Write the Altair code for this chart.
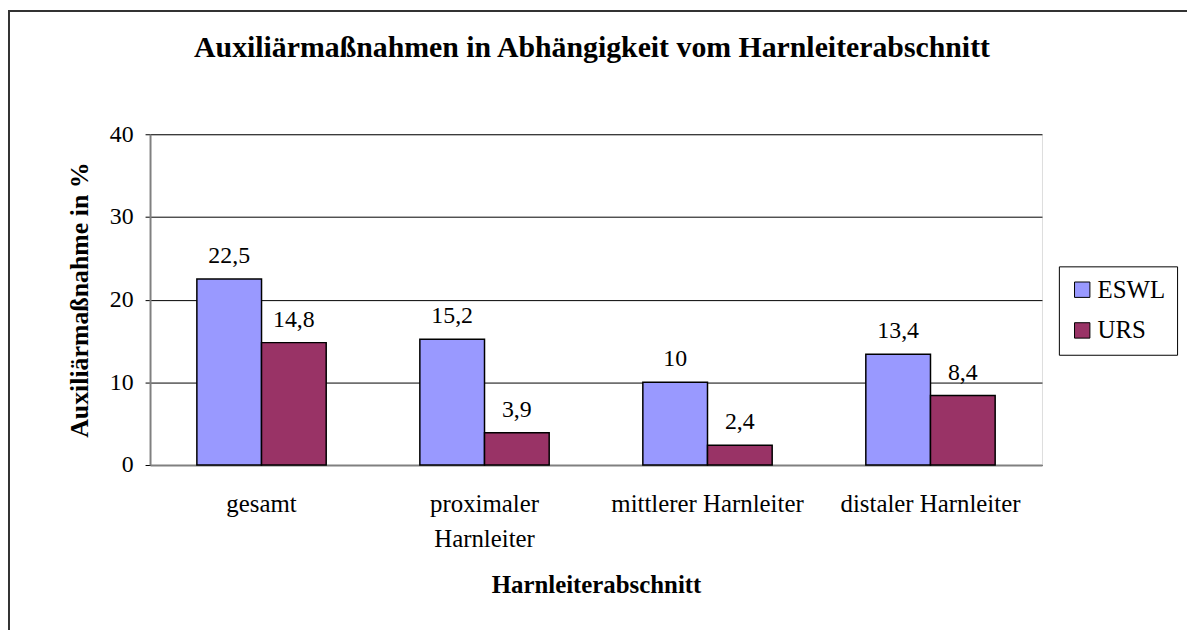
import altair as alt
import pandas as pd

categories = ["gesamt", "proximaler Harnleiter", "mittlerer Harnleiter", "distaler Harnleiter"]
series = ["ESWL", "URS"]
eswl = [22.5, 15.2, 10.0, 13.4]
urs = [14.8, 3.9, 2.4, 8.4]
y_ticks = [0, 10, 20, 30, 40]
colors = ["#9999FF", "#993366"]
title_text = "Auxiliärmaßnahmen in Abhängigkeit vom Harnleiterabschnitt"

rows = []
for c, a, b in zip(categories, eswl, urs):
    rows.append({"Abschnitt": c, "Verfahren": "ESWL", "Wert": a})
    rows.append({"Abschnitt": c, "Verfahren": "URS", "Wert": b})
df = pd.DataFrame(rows)

FONT = "Liberation Serif"
W, H = 898, 333
PL, PT = 143, 125
PR = 1187 - PL - W
PB = 622 - PT - H

x_enc = alt.X(
    "Abschnitt:N",
    sort=categories,
    scale=alt.Scale(paddingInner=0.42, paddingOuter=0.21),
    axis=alt.Axis(
        title="Harnleiterabschnitt",
        labelAngle=0,
        labelFont=FONT,
        labelFontSize=25,
        labelColor="black",
        labelPadding=27,
        labelBaseline="top",
        labelLineHeight=35,
        labelLimit=0,
        labelExpr="datum.value == 'proximaler Harnleiter' ? ['proximaler', 'Harnleiter'] : datum.value",
        ticks=False,
        domainColor="#808080",
        domainWidth=2,
        titleFont=FONT,
        titleFontSize=25,
        titleFontWeight="bold",
        titleColor="black",
        titlePadding=21,
    ),
)

y_enc = alt.Y(
    "Wert:Q",
    scale=alt.Scale(domain=[0, 40]),
    axis=alt.Axis(
        title="Auxiliärmaßnahme in %",
        values=y_ticks,
        labelFont=FONT,
        labelFontSize=24,
        labelColor="black",
        labelPadding=12,
        tickSize=5,
        tickColor="black",
        gridColor="black",
        gridWidth=1,
        domainColor="#808080",
        domainWidth=2,
        titleFont=FONT,
        titleFontSize=26,
        titleFontWeight="bold",
        titleColor="black",
        titlePadding=17,
    ),
)

bars = alt.Chart(df).mark_bar(stroke="black", strokeWidth=1.5).encode(
    x=x_enc,
    y=y_enc,
    xOffset=alt.XOffset("Verfahren:N", sort=series, scale=alt.Scale(paddingInner=0, paddingOuter=0)),
    color=alt.Color(
        "Verfahren:N",
        sort=series,
        scale=alt.Scale(domain=series, range=colors),
        legend=alt.Legend(
            title=None,
            orient="none",
            legendX=915,
            legendY=133,
            strokeColor="black",
            padding=11,
            symbolType="square",
            symbolSize=240,
            symbolStrokeColor="black",
            symbolStrokeWidth=1,
            labelFont=FONT,
            labelFontSize=25,
            labelColor="black",
            rowPadding=15,
            labelOffset=3,
        ),
    ),
)

labels = alt.Chart(df).transform_calculate(
    lbl="replace(format(datum.Wert, '.1~f'), '.', ',')"
).mark_text(font=FONT, fontSize=24, color="black", baseline="alphabetic", dy=-16).encode(
    x=alt.X("Abschnitt:N", sort=categories),
    y=alt.Y("Wert:Q"),
    xOffset=alt.XOffset("Verfahren:N", sort=series),
    text="lbl:N",
)

title = alt.Chart(alt.Data(values=[{"t": title_text}])).mark_text(
    font=FONT, fontSize=30, fontWeight="bold", color="black", baseline="alphabetic", align="center"
).encode(
    x=alt.value(445),
    y=alt.value(-78),
    text="t:N",
)

border = alt.Chart(alt.Data(values=[{}])).mark_rect(
    fill=None, stroke="#333333", strokeWidth=2
).encode(
    x=alt.value(-PL + 1),
    y=alt.value(-PT + 1),
    x2=alt.value(W + PR + 20),
    y2=alt.value(H + PB + 20),
)

chart = alt.layer(bars, labels, title, border).properties(
    width=W,
    height=H,
    padding={"left": PL, "top": PT, "right": PR, "bottom": PB},
    autosize=alt.AutoSizeParams(type="none"),
).configure_view(stroke="#808080", strokeWidth=2).configure(background="white")

chart.save("out.html", embed_options={"renderer": "svg", "actions": False})
